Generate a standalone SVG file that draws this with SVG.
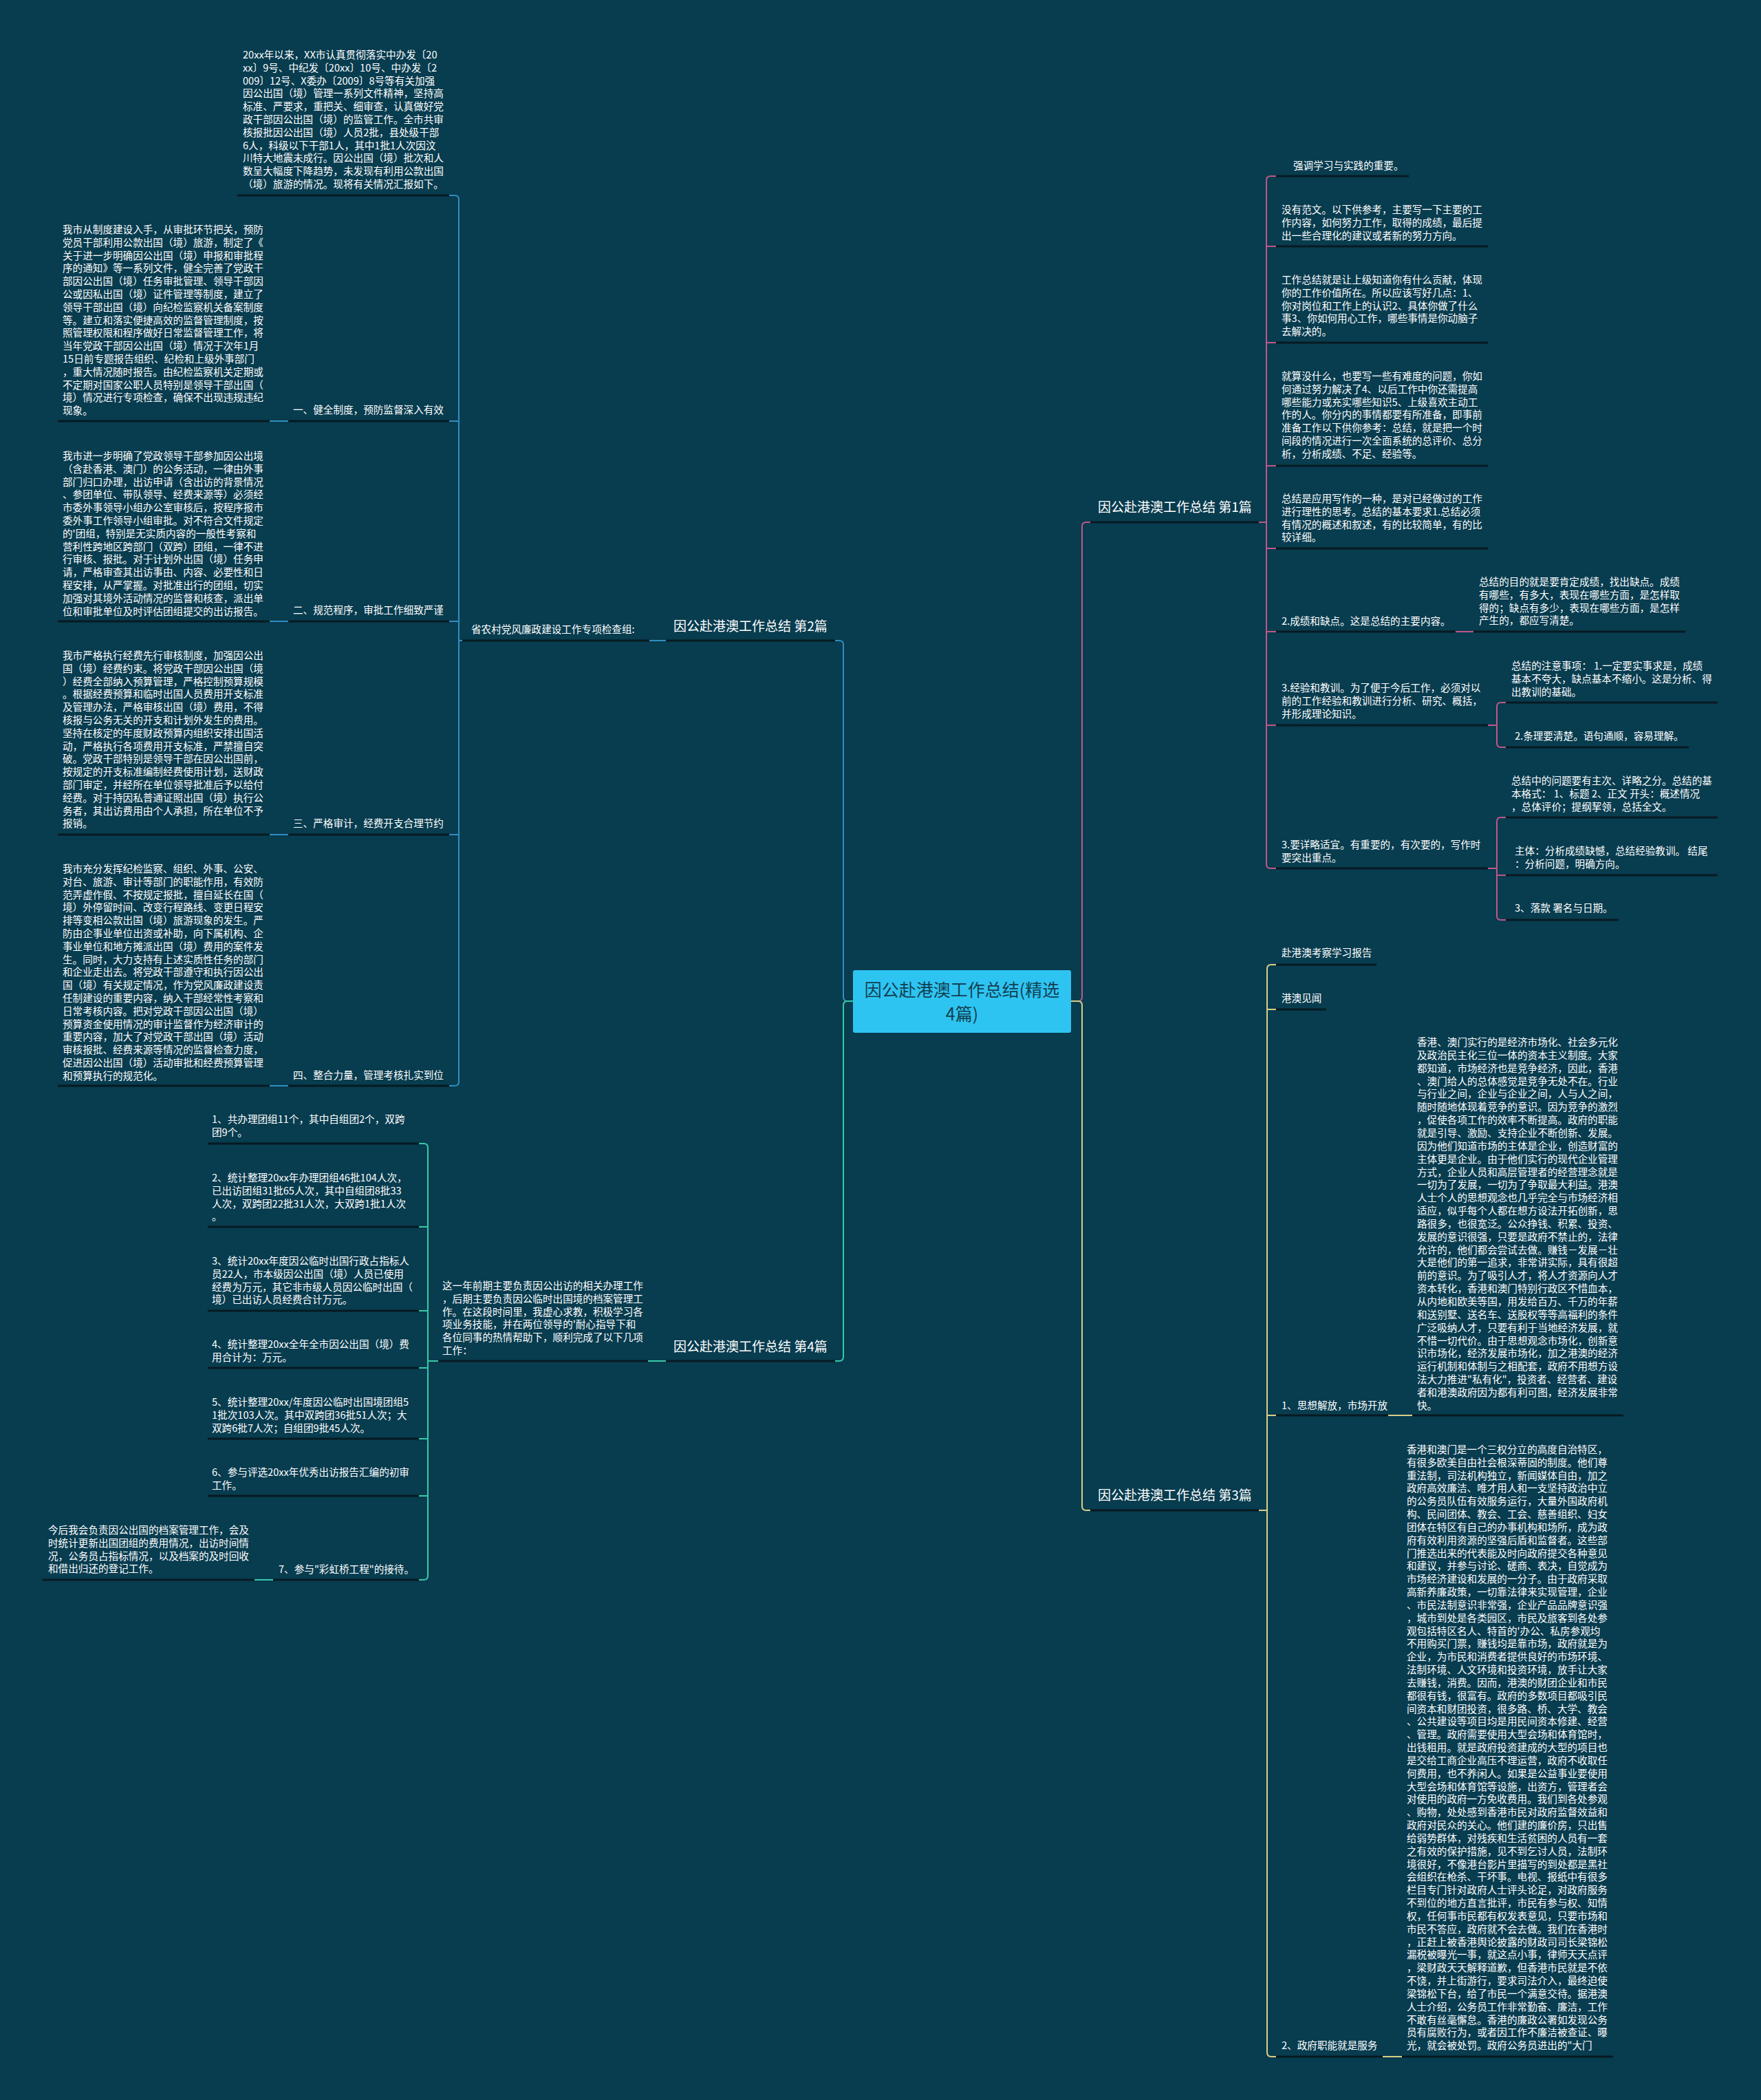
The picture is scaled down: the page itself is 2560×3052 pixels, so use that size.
<svg xmlns="http://www.w3.org/2000/svg" width="2560" height="3052" viewBox="0 0 2560 3052">
<style>
.t{font-family:"Noto Sans CJK SC","Noto Sans",sans-serif;font-size:14.6px;fill:#ffffff}
.b{font-family:"Noto Sans CJK SC","Noto Sans",sans-serif;font-size:19px;fill:#ffffff}
.c{font-family:"Noto Sans CJK SC","Noto Sans",sans-serif;font-size:25px;fill:#123f50}
.u{stroke:#061a22;stroke-width:3;fill:none}
.cp{stroke:#c0568a;stroke-width:2;fill:none}
.cb{stroke:#2f8ec0;stroke-width:2;fill:none}
.ct{stroke:#38c9a8;stroke-width:2;fill:none}
.cy{stroke:#d8cf88;stroke-width:2;fill:none}
</style>
<rect width="2560" height="3052" fill="#083c4f"/>

<g id="connectors">
  <path class="cp" d="M1557,1455 H1567 Q1573,1455 1573,1449 V765 Q1573,759 1579,759 H1585"/>
  <path class="cy" d="M1557,1455 H1567 Q1573,1455 1573,1461 V2189 Q1573,2195 1579,2195 H1585"/>
  <path class="cb" d="M1240,1455 H1232 Q1226,1455 1226,1449 V937 Q1226,931 1220,931 H1214"/>
  <path class="ct" d="M1240,1455 H1232 Q1226,1455 1226,1461 V1972 Q1226,1978 1220,1978 H1214"/>
  <!-- branch 1 -->
  <path class="cp" d="M1830,759 H1841"/>
  <path class="cp" d="M1855,256 H1847 Q1841,256 1841,262 V1256 Q1841,1262 1847,1262 H1855"/>
  <path class="cp" d="M1841,358 H1855 M1841,498 H1855 M1841,677 H1855 M1841,797 H1855 M1841,918 H1855 M1841,1054 H1855"/>
  <path class="cp" d="M2116,918 H2142"/>
  <path class="cp" d="M2163,1054 H2176 M2189,1021 H2182 Q2176,1021 2176,1027 V1080 Q2176,1086 2182,1086 H2189"/>
  <path class="cp" d="M2163,1262 H2176 M2189,1188 H2182 Q2176,1188 2176,1194 V1331 Q2176,1337 2182,1337 H2189 M2176,1272 H2189"/>
  <!-- branch 3 -->
  <path class="cy" d="M1830,2195 H1842"/>
  <path class="cy" d="M1855,1402 H1848 Q1842,1402 1842,1408 V2983 Q1842,2989 1848,2989 H1855"/>
  <path class="cy" d="M1842,1467 H1855 M1842,2057 H1855"/>
  <path class="cy" d="M2018,2057 H2053 M2010,2989 H2038"/>
  <!-- branch 2 -->
  <path class="cb" d="M944,931 H968"/>
  <path class="cb" d="M667,931 H672"/>
  <path class="cb" d="M653,284 H661 Q667,284 667,290 V1572 Q667,1578 661,1578 H653"/>
  <path class="cb" d="M667,612 H653 M667,903 H653 M667,1213 H653"/>
  <path class="cb" d="M392,612 H419 M392,903 H419 M392,1213 H419 M392,1578 H419"/>
  <!-- branch 4 -->
  <path class="ct" d="M942,1978 H968"/>
  <path class="ct" d="M637,1978 H622"/>
  <path class="ct" d="M609,1662 H616 Q622,1662 622,1668 V2290 Q622,2296 616,2296 H609"/>
  <path class="ct" d="M622,1783 H609 M622,1905 H609 M622,1988 H609 M622,2091 H609 M622,2174 H609"/>
  <path class="ct" d="M397,2296 H370"/>
</g>

<g id="center">
  <rect x="1240" y="1410" width="317" height="91" rx="3" fill="#2ec4f2"/>
  <text class="c" x="1398.5" y="1448" text-anchor="middle">因公赴港澳工作总结(精选</text>
  <text class="c" x="1398.5" y="1483" text-anchor="middle">4篇)</text>
</g>

<!-- Branch 1 -->
<g id="b1">
  <text class="b" x="1596" y="744">因公赴港澳工作总结 第1篇</text>
  <line class="u" x1="1585" y1="759" x2="1830" y2="759"/>
</g>
<g id="b1-n1">
  <text class="t" x="1880" y="246">强调学习与实践的重要。</text>
  <line class="u" x1="1855" y1="256" x2="2048" y2="256"/>
</g>
<g id="b1-n2">
  <text class="t" x="1863" y="310"><tspan x="1863">没有范文。以下供参考，主要写一下主要的工</tspan><tspan x="1863" dy="18.8">作内容，如何努力工作，取得的成绩，最后提</tspan><tspan x="1863" dy="18.8">出一些合理化的建议或者新的努力方向。</tspan></text>
  <line class="u" x1="1855" y1="358" x2="2163" y2="358"/>
</g>
<g id="b1-n3">
  <text class="t" x="1863" y="412"><tspan x="1863">工作总结就是让上级知道你有什么贡献，体现</tspan><tspan x="1863" dy="18.8">你的工作价值所在。所以应该写好几点：1、</tspan><tspan x="1863" dy="18.8">你对岗位和工作上的认识2、具体你做了什么</tspan><tspan x="1863" dy="18.8">事3、你如何用心工作，哪些事情是你动脑子</tspan><tspan x="1863" dy="18.8">去解决的。</tspan></text>
  <line class="u" x1="1855" y1="498" x2="2163" y2="498"/>
</g>
<g id="b1-n4">
  <text class="t" x="1863" y="552"><tspan x="1863">就算没什么，也要写一些有难度的问题，你如</tspan><tspan x="1863" dy="18.8">何通过努力解决了4、以后工作中你还需提高</tspan><tspan x="1863" dy="18.8">哪些能力或充实哪些知识5、上级喜欢主动工</tspan><tspan x="1863" dy="18.8">作的人。你分内的事情都要有所准备，即事前</tspan><tspan x="1863" dy="18.8">准备工作以下供你参考：总结，就是把一个时</tspan><tspan x="1863" dy="18.8">间段的情况进行一次全面系统的总评价、总分</tspan><tspan x="1863" dy="18.8">析，分析成绩、不足、经验等。</tspan></text>
  <line class="u" x1="1855" y1="677" x2="2163" y2="677"/>
</g>
<g id="b1-n5">
  <text class="t" x="1863" y="730"><tspan x="1863">总结是应用写作的一种，是对已经做过的工作</tspan><tspan x="1863" dy="18.8">进行理性的思考。总结的基本要求1.总结必须</tspan><tspan x="1863" dy="18.8">有情况的概述和叙述，有的比较简单，有的比</tspan><tspan x="1863" dy="18.8">较详细。</tspan></text>
  <line class="u" x1="1855" y1="797" x2="2163" y2="797"/>
</g>
<g id="b1-n6">
  <text class="t" x="1863" y="908">2.成绩和缺点。这是总结的主要内容。</text>
  <line class="u" x1="1855" y1="918" x2="2116" y2="918"/>
</g>
<g id="b1-n6a">
  <text class="t" x="2150" y="851"><tspan x="2150">总结的目的就是要肯定成绩，找出缺点。成绩</tspan><tspan x="2150" dy="18.8">有哪些，有多大，表现在哪些方面，是怎样取</tspan><tspan x="2150" dy="18.8">得的；缺点有多少，表现在哪些方面，是怎样</tspan><tspan x="2150" dy="18.8">产生的，都应写清楚。</tspan></text>
  <line class="u" x1="2142" y1="918" x2="2450" y2="918"/>
</g>
<g id="b1-n7">
  <text class="t" x="1863" y="1005"><tspan x="1863">3.经验和教训。为了便于今后工作，必须对以</tspan><tspan x="1863" dy="18.8">前的工作经验和教训进行分析、研究、概括，</tspan><tspan x="1863" dy="18.8">并形成理论知识。</tspan></text>
  <line class="u" x1="1855" y1="1054" x2="2163" y2="1054"/>
</g>
<g id="b1-n7a">
  <text class="t" x="2197" y="973"><tspan x="2197">总结的注意事项： 1.一定要实事求是，成绩</tspan><tspan x="2197" dy="18.8">基本不夸大，缺点基本不缩小。这是分析、得</tspan><tspan x="2197" dy="18.8">出教训的基础。</tspan></text>
  <line class="u" x1="2189" y1="1021" x2="2497" y2="1021"/>
</g>
<g id="b1-n7b">
  <text class="t" x="2202" y="1075">2.条理要清楚。语句通顺，容易理解。</text>
  <line class="u" x1="2189" y1="1086" x2="2455" y2="1086"/>
</g>
<g id="b1-n8">
  <text class="t" x="1863" y="1233"><tspan x="1863">3.要详略适宜。有重要的，有次要的，写作时</tspan><tspan x="1863" dy="18.8">要突出重点。</tspan></text>
  <line class="u" x1="1855" y1="1262" x2="2163" y2="1262"/>
</g>
<g id="b1-n8a">
  <text class="t" x="2197" y="1140"><tspan x="2197">总结中的问题要有主次、详略之分。总结的基</tspan><tspan x="2197" dy="18.8">本格式： 1、标题 2、正文 开头：概述情况</tspan><tspan x="2197" dy="18.8">，总体评价；提纲挈领，总括全文。</tspan></text>
  <line class="u" x1="2189" y1="1188" x2="2497" y2="1188"/>
</g>
<g id="b1-n8b">
  <text class="t" x="2202" y="1242"><tspan x="2202">主体：分析成绩缺憾，总结经验教训。 结尾</tspan><tspan x="2202" dy="18.8">：分析问题，明确方向。</tspan></text>
  <line class="u" x1="2189" y1="1272" x2="2497" y2="1272"/>
</g>
<g id="b1-n8c">
  <text class="t" x="2202" y="1325">3、落款 署名与日期。</text>
  <line class="u" x1="2189" y1="1337" x2="2353" y2="1337"/>
</g>

<!-- Branch 3 -->
<g id="b3">
  <text class="b" x="1596" y="2180">因公赴港澳工作总结 第3篇</text>
  <line class="u" x1="1585" y1="2195" x2="1830" y2="2195"/>
</g>
<g id="b3-n1">
  <text class="t" x="1863" y="1390">赴港澳考察学习报告</text>
  <line class="u" x1="1855" y1="1402" x2="2001" y2="1402"/>
</g>
<g id="b3-n2">
  <text class="t" x="1863" y="1456">港澳见闻</text>
  <line class="u" x1="1855" y1="1467" x2="1928" y2="1467"/>
</g>
<g id="b3-n3">
  <text class="t" x="1863" y="2048">1、思想解放，市场开放</text>
  <line class="u" x1="1855" y1="2057" x2="2018" y2="2057"/>
</g>
<g id="b3-n3a">
  <text class="t" x="2060" y="1520"><tspan x="2060">香港、澳门实行的是经济市场化、社会多元化</tspan><tspan x="2060" dy="18.85">及政治民主化三位一体的资本主义制度。大家</tspan><tspan x="2060" dy="18.85">都知道，市场经济也是竞争经济，因此，香港</tspan><tspan x="2060" dy="18.85">、澳门给人的总体感觉是竞争无处不在。行业</tspan><tspan x="2060" dy="18.85">与行业之间，企业与企业之间，人与人之间，</tspan><tspan x="2060" dy="18.85">随时随地体现着竞争的意识。因为竞争的激烈</tspan><tspan x="2060" dy="18.85">，促使各项工作的效率不断提高。政府的职能</tspan><tspan x="2060" dy="18.85">就是引导、激励、支持企业不断创新、发展。</tspan><tspan x="2060" dy="18.85">因为他们知道市场的主体是企业，创造财富的</tspan><tspan x="2060" dy="18.85">主体更是企业。由于他们实行的现代企业管理</tspan><tspan x="2060" dy="18.85">方式，企业人员和高层管理者的经营理念就是</tspan><tspan x="2060" dy="18.85">一切为了发展，一切为了争取最大利益。港澳</tspan><tspan x="2060" dy="18.85">人士个人的思想观念也几乎完全与市场经济相</tspan><tspan x="2060" dy="18.85">适应，似乎每个人都在想方设法开拓创新，思</tspan><tspan x="2060" dy="18.85">路很多，也很宽泛。公众挣钱、积累、投资、</tspan><tspan x="2060" dy="18.85">发展的意识很强，只要是政府不禁止的，法律</tspan><tspan x="2060" dy="18.85">允许的，他们都会尝试去做。赚钱－发展－壮</tspan><tspan x="2060" dy="18.85">大是他们的第一追求，非常讲实际，具有很超</tspan><tspan x="2060" dy="18.85">前的意识。为了吸引人才，将人才资源向人才</tspan><tspan x="2060" dy="18.85">资本转化，香港和澳门特别行政区不惜血本，</tspan><tspan x="2060" dy="18.85">从内地和欧美等国，用发给百万、千万的年薪</tspan><tspan x="2060" dy="18.85">和送别墅、送名车、送股权等等高福利的条件</tspan><tspan x="2060" dy="18.85">广泛吸纳人才，只要有利于当地经济发展，就</tspan><tspan x="2060" dy="18.85">不惜一切代价。由于思想观念市场化，创新意</tspan><tspan x="2060" dy="18.85">识市场化，经济发展市场化，加之港澳的经济</tspan><tspan x="2060" dy="18.85">运行机制和体制与之相配套，政府不用想方设</tspan><tspan x="2060" dy="18.85">法大力推进"私有化"，投资者、经营者、建设</tspan><tspan x="2060" dy="18.85">者和港澳政府因为都有利可图，经济发展非常</tspan><tspan x="2060" dy="18.85">快。</tspan></text>
  <line class="u" x1="2053" y1="2057" x2="2360" y2="2057"/>
</g>
<g id="b3-n4">
  <text class="t" x="1863" y="2978">2、政府职能就是服务</text>
  <line class="u" x1="1855" y1="2989" x2="2010" y2="2989"/>
</g>
<g id="b3-n4a">
  <text class="t" x="2045" y="2112"><tspan x="2045">香港和澳门是一个三权分立的高度自治特区，</tspan><tspan x="2045" dy="18.83">有很多欧美自由社会根深蒂固的制度。他们尊</tspan><tspan x="2045" dy="18.83">重法制，司法机构独立，新闻媒体自由，加之</tspan><tspan x="2045" dy="18.83">政府高效廉洁、唯才用人和一支坚持政治中立</tspan><tspan x="2045" dy="18.83">的公务员队伍有效服务运行，大量外国政府机</tspan><tspan x="2045" dy="18.83">构、民间团体、教会、工会、慈善组织、妇女</tspan><tspan x="2045" dy="18.83">团体在特区有自己的办事机构和场所，成为政</tspan><tspan x="2045" dy="18.83">府有效利用资源的坚强后盾和监督者。这些部</tspan><tspan x="2045" dy="18.83">门推选出来的代表能及时向政府提交各种意见</tspan><tspan x="2045" dy="18.83">和建议，并参与讨论、磋商、表决，自觉成为</tspan><tspan x="2045" dy="18.83">市场经济建设和发展的一分子。由于政府采取</tspan><tspan x="2045" dy="18.83">高新养廉政策，一切靠法律来实现管理，企业</tspan><tspan x="2045" dy="18.83">、市民法制意识非常强，企业产品品牌意识强</tspan><tspan x="2045" dy="18.83">，城市到处是各类园区，市民及旅客到各处参</tspan><tspan x="2045" dy="18.83">观包括特区名人、特首的'办公、私房参观均</tspan><tspan x="2045" dy="18.83">不用购买门票，赚钱均是靠市场，政府就是为</tspan><tspan x="2045" dy="18.83">企业，为市民和消费者提供良好的市场环境、</tspan><tspan x="2045" dy="18.83">法制环境、人文环境和投资环境，放手让大家</tspan><tspan x="2045" dy="18.83">去赚钱，消费。因而，港澳的财团企业和市民</tspan><tspan x="2045" dy="18.83">都很有钱，很富有。政府的多数项目都吸引民</tspan><tspan x="2045" dy="18.83">间资本和财团投资，很多路、桥、大学、教会</tspan><tspan x="2045" dy="18.83">、公共建设等项目均是用民间资本修建、经营</tspan><tspan x="2045" dy="18.83">、管理。政府需要使用大型会场和体育馆时，</tspan><tspan x="2045" dy="18.83">出钱租用。就是政府投资建成的大型的项目也</tspan><tspan x="2045" dy="18.83">是交给工商企业高压不理运营，政府不收取任</tspan><tspan x="2045" dy="18.83">何费用，也不养闲人。如果是公益事业要使用</tspan><tspan x="2045" dy="18.83">大型会场和体育馆等设施，出资方，管理者会</tspan><tspan x="2045" dy="18.83">对使用的政府一方免收费用。我们到各处参观</tspan><tspan x="2045" dy="18.83">、购物，处处感到香港市民对政府监督效益和</tspan><tspan x="2045" dy="18.83">政府对民众的关心。他们建的廉价房，只出售</tspan><tspan x="2045" dy="18.83">给弱势群体，对残疾和生活贫困的人员有一套</tspan><tspan x="2045" dy="18.83">之有效的保护措施，见不到乞讨人员，法制环</tspan><tspan x="2045" dy="18.83">境很好，不像港台影片里描写的到处都是黑社</tspan><tspan x="2045" dy="18.83">会组织在枪杀、干坏事。电视、报纸中有很多</tspan><tspan x="2045" dy="18.83">栏目专门针对政府人士评头论足，对政府服务</tspan><tspan x="2045" dy="18.83">不到位的地方直言批评，市民有参与权、知情</tspan><tspan x="2045" dy="18.83">权，任何事市民都有权发表意见，只要市场和</tspan><tspan x="2045" dy="18.83">市民不答应，政府就不会去做。我们在香港时</tspan><tspan x="2045" dy="18.83">，正赶上被香港舆论披露的财政司司长梁锦松</tspan><tspan x="2045" dy="18.83">漏税被曝光一事，就这点小事，律师天天点评</tspan><tspan x="2045" dy="18.83">，梁财政天天解释道歉，但香港市民就是不依</tspan><tspan x="2045" dy="18.83">不饶，并上街游行，要求司法介入，最终迫使</tspan><tspan x="2045" dy="18.83">梁锦松下台，给了市民一个满意交待。据港澳</tspan><tspan x="2045" dy="18.83">人士介绍，公务员工作非常勤奋、廉洁，工作</tspan><tspan x="2045" dy="18.83">不敢有丝毫懈怠。香港的廉政公署如发现公务</tspan><tspan x="2045" dy="18.83">员有腐败行为，或者因工作不廉洁被查证、曝</tspan><tspan x="2045" dy="18.83">光，就会被处罚。政府公务员进出的"大门</tspan></text>
  <line class="u" x1="2038" y1="2989" x2="2345" y2="2989"/>
</g>

<!-- Branch 2 -->
<g id="b2">
  <text class="b" x="979" y="917">因公赴港澳工作总结 第2篇</text>
  <line class="u" x1="968" y1="931" x2="1214" y2="931"/>
</g>
<g id="b2-n0">
  <text class="t" x="685" y="920">省农村党风廉政建设工作专项检查组:</text>
  <line class="u" x1="672" y1="931" x2="944" y2="931"/>
</g>
<g id="b2-n1">
  <text class="t" x="353" y="85"><tspan x="353">20xx年以来，XX市认真贯彻落实中办发〔20</tspan><tspan x="353" dy="18.8">xx〕9号、中纪发〔20xx〕10号、中办发〔2</tspan><tspan x="353" dy="18.8">009〕12号、X委办〔2009〕8号等有关加强</tspan><tspan x="353" dy="18.8">因公出国（境）管理一系列文件精神，坚持高</tspan><tspan x="353" dy="18.8">标准、严要求，重把关、细审查，认真做好党</tspan><tspan x="353" dy="18.8">政干部因公出国（境）的监管工作。全市共审</tspan><tspan x="353" dy="18.8">核报批因公出国（境）人员2批，县处级干部</tspan><tspan x="353" dy="18.8">6人，科级以下干部1人，其中1批1人次因汶</tspan><tspan x="353" dy="18.8">川特大地震未成行。因公出国（境）批次和人</tspan><tspan x="353" dy="18.8">数呈大幅度下降趋势，未发现有利用公款出国</tspan><tspan x="353" dy="18.8">（境）旅游的情况。现将有关情况汇报如下。</tspan></text>
  <line class="u" x1="345" y1="284" x2="653" y2="284"/>
</g>
<g id="b2-n2">
  <text class="t" x="426" y="601">一、健全制度，预防监督深入有效</text>
  <line class="u" x1="419" y1="612" x2="653" y2="612"/>
</g>
<g id="b2-n2a">
  <text class="t" x="91" y="339"><tspan x="91">我市从制度建设入手，从审批环节把关，预防</tspan><tspan x="91" dy="18.8">党员干部利用公款出国（境）旅游，制定了《</tspan><tspan x="91" dy="18.8">关于进一步明确因公出国（境）申报和审批程</tspan><tspan x="91" dy="18.8">序的通知》等一系列文件，健全完善了党政干</tspan><tspan x="91" dy="18.8">部因公出国（境）任务审批管理、领导干部因</tspan><tspan x="91" dy="18.8">公或因私出国（境）证件管理等制度，建立了</tspan><tspan x="91" dy="18.8">领导干部出国（境）向纪检监察机关备案制度</tspan><tspan x="91" dy="18.8">等。建立和落实便捷高效的监督管理制度，按</tspan><tspan x="91" dy="18.8">照管理权限和程序做好日常监督管理工作，将</tspan><tspan x="91" dy="18.8">当年党政干部因公出国（境）情况于次年1月</tspan><tspan x="91" dy="18.8">15日前专题报告组织、纪检和上级外事部门</tspan><tspan x="91" dy="18.8">，重大情况随时报告。由纪检监察机关定期或</tspan><tspan x="91" dy="18.8">不定期对国家公职人员特别是领导干部出国（</tspan><tspan x="91" dy="18.8">境）情况进行专项检查，确保不出现违规违纪</tspan><tspan x="91" dy="18.8">现象。</tspan></text>
  <line class="u" x1="84" y1="612" x2="392" y2="612"/>
</g>
<g id="b2-n3">
  <text class="t" x="426" y="892">二、规范程序，审批工作细致严谨</text>
  <line class="u" x1="419" y1="903" x2="653" y2="903"/>
</g>
<g id="b2-n3a">
  <text class="t" x="91" y="668"><tspan x="91">我市进一步明确了党政领导干部参加因公出境</tspan><tspan x="91" dy="18.8">（含赴香港、澳门）的公务活动，一律由外事</tspan><tspan x="91" dy="18.8">部门归口办理，出访申请（含出访的背景情况</tspan><tspan x="91" dy="18.8">、参团单位、带队领导、经费来源等）必须经</tspan><tspan x="91" dy="18.8">市委外事领导小组办公室审核后，按程序报市</tspan><tspan x="91" dy="18.8">委外事工作领导小组审批。对不符合文件规定</tspan><tspan x="91" dy="18.8">的'团组，特别是无实质内容的一般性考察和</tspan><tspan x="91" dy="18.8">营利性跨地区跨部门（双跨）团组，一律不进</tspan><tspan x="91" dy="18.8">行审核、报批。对于计划外出国（境）任务申</tspan><tspan x="91" dy="18.8">请，严格审查其出访事由、内容、必要性和日</tspan><tspan x="91" dy="18.8">程安排，从严掌握。对批准出行的团组，切实</tspan><tspan x="91" dy="18.8">加强对其境外活动情况的监督和核查，派出单</tspan><tspan x="91" dy="18.8">位和审批单位及时评估团组提交的出访报告。</tspan></text>
  <line class="u" x1="84" y1="903" x2="392" y2="903"/>
</g>
<g id="b2-n4">
  <text class="t" x="426" y="1202">三、严格审计，经费开支合理节约</text>
  <line class="u" x1="419" y1="1213" x2="653" y2="1213"/>
</g>
<g id="b2-n4a">
  <text class="t" x="91" y="958"><tspan x="91">我市严格执行经费先行审核制度，加强因公出</tspan><tspan x="91" dy="18.8">国（境）经费约束。将党政干部因公出国（境</tspan><tspan x="91" dy="18.8">）经费全部纳入预算管理，严格控制预算规模</tspan><tspan x="91" dy="18.8">。根据经费预算和临时出国人员费用开支标准</tspan><tspan x="91" dy="18.8">及管理办法，严格审核出国（境）费用，不得</tspan><tspan x="91" dy="18.8">核报与公务无关的开支和计划外发生的费用。</tspan><tspan x="91" dy="18.8">坚持在核定的年度财政预算内组织安排出国活</tspan><tspan x="91" dy="18.8">动，严格执行各项费用开支标准，严禁擅自突</tspan><tspan x="91" dy="18.8">破。党政干部特别是领导干部在因公出国前，</tspan><tspan x="91" dy="18.8">按规定的开支标准编制经费使用计划，送财政</tspan><tspan x="91" dy="18.8">部门审定，并经所在单位领导批准后予以给付</tspan><tspan x="91" dy="18.8">经费。对于持因私普通证照出国（境）执行公</tspan><tspan x="91" dy="18.8">务者，其出访费用由个人承担，所在单位不予</tspan><tspan x="91" dy="18.8">报销。</tspan></text>
  <line class="u" x1="84" y1="1213" x2="392" y2="1213"/>
</g>
<g id="b2-n5">
  <text class="t" x="426" y="1568">四、整合力量，管理考核扎实到位</text>
  <line class="u" x1="419" y1="1578" x2="653" y2="1578"/>
</g>
<g id="b2-n5a">
  <text class="t" x="91" y="1268"><tspan x="91">我市充分发挥纪检监察、组织、外事、公安、</tspan><tspan x="91" dy="18.8">对台、旅游、审计等部门的职能作用，有效防</tspan><tspan x="91" dy="18.8">范弄虚作假、不按规定报批，擅自延长在国（</tspan><tspan x="91" dy="18.8">境）外停留时间、改变行程路线、变更日程安</tspan><tspan x="91" dy="18.8">排等变相公款出国（境）旅游现象的发生。严</tspan><tspan x="91" dy="18.8">防由企事业单位出资或补助，向下属机构、企</tspan><tspan x="91" dy="18.8">事业单位和地方摊派出国（境）费用的案件发</tspan><tspan x="91" dy="18.8">生。同时，大力支持有上述实质性任务的部门</tspan><tspan x="91" dy="18.8">和企业走出去。将党政干部遵守和执行因公出</tspan><tspan x="91" dy="18.8">国（境）有关规定情况，作为党风廉政建设责</tspan><tspan x="91" dy="18.8">任制建设的重要内容，纳入干部经常性考察和</tspan><tspan x="91" dy="18.8">日常考核内容。把对党政干部因公出国（境）</tspan><tspan x="91" dy="18.8">预算资金使用情况的审计监督作为经济审计的</tspan><tspan x="91" dy="18.8">重要内容，加大了对党政干部出国（境）活动</tspan><tspan x="91" dy="18.8">审核报批、经费来源等情况的监督检查力度，</tspan><tspan x="91" dy="18.8">促进因公出国（境）活动审批和经费预算管理</tspan><tspan x="91" dy="18.8">和预算执行的规范化。</tspan></text>
  <line class="u" x1="84" y1="1578" x2="392" y2="1578"/>
</g>

<!-- Branch 4 -->
<g id="b4">
  <text class="b" x="979" y="1964">因公赴港澳工作总结 第4篇</text>
  <line class="u" x1="968" y1="1978" x2="1214" y2="1978"/>
</g>
<g id="b4-n0">
  <text class="t" x="643" y="1874"><tspan x="643">这一年前期主要负责因公出访的相关办理工作</tspan><tspan x="643" dy="18.8">，后期主要负责因公临时出国境的档案管理工</tspan><tspan x="643" dy="18.8">作。在这段时间里，我虚心求教，积极学习各</tspan><tspan x="643" dy="18.8">项业务技能，并在两位领导的'耐心指导下和</tspan><tspan x="643" dy="18.8">各位同事的热情帮助下，顺利完成了以下几项</tspan><tspan x="643" dy="18.8">工作：</tspan></text>
  <line class="u" x1="637" y1="1978" x2="942" y2="1978"/>
</g>
<g id="b4-n1">
  <text class="t" x="308" y="1632"><tspan x="308">1、共办理团组11个，其中自组团2个，双跨</tspan><tspan x="308" dy="18.8">团9个。</tspan></text>
  <line class="u" x1="302" y1="1662" x2="609" y2="1662"/>
</g>
<g id="b4-n2">
  <text class="t" x="308" y="1717"><tspan x="308">2、统计整理20xx年办理团组46批104人次，</tspan><tspan x="308" dy="18.8">已出访团组31批65人次，其中自组团8批33</tspan><tspan x="308" dy="18.8">人次，双跨团22批31人次，大双跨1批1人次</tspan><tspan x="308" dy="18.8">。</tspan></text>
  <line class="u" x1="302" y1="1783" x2="609" y2="1783"/>
</g>
<g id="b4-n3">
  <text class="t" x="308" y="1838"><tspan x="308">3、统计20xx年度因公临时出国行政占指标人</tspan><tspan x="308" dy="18.8">员22人，市本级因公出国（境）人员已使用</tspan><tspan x="308" dy="18.8">经费为万元，其它非市级人员因公临时出国（</tspan><tspan x="308" dy="18.8">境）已出访人员经费合计万元。</tspan></text>
  <line class="u" x1="302" y1="1905" x2="609" y2="1905"/>
</g>
<g id="b4-n4">
  <text class="t" x="308" y="1959"><tspan x="308">4、统计整理20xx全年全市因公出国（境）费</tspan><tspan x="308" dy="18.8">用合计为：万元。</tspan></text>
  <line class="u" x1="302" y1="1988" x2="609" y2="1988"/>
</g>
<g id="b4-n5">
  <text class="t" x="308" y="2043"><tspan x="308">5、统计整理20xx/年度因公临时出国境团组5</tspan><tspan x="308" dy="18.8">1批次103人次。其中双跨团36批51人次；大</tspan><tspan x="308" dy="18.8">双跨6批7人次；自组团9批45人次。</tspan></text>
  <line class="u" x1="302" y1="2091" x2="609" y2="2091"/>
</g>
<g id="b4-n6">
  <text class="t" x="308" y="2145"><tspan x="308">6、参与评选20xx年优秀出访报告汇编的初审</tspan><tspan x="308" dy="18.8">工作。</tspan></text>
  <line class="u" x1="302" y1="2174" x2="609" y2="2174"/>
</g>
<g id="b4-n7">
  <text class="t" x="405" y="2286">7、参与"彩虹桥工程"的接待。</text>
  <line class="u" x1="397" y1="2296" x2="609" y2="2296"/>
</g>
<g id="b4-n7a">
  <text class="t" x="70" y="2229"><tspan x="70">今后我会负责因公出国的档案管理工作，会及</tspan><tspan x="70" dy="18.8">时统计更新出国团组的费用情况，出访时间情</tspan><tspan x="70" dy="18.8">况，公务员占指标情况，以及档案的及时回收</tspan><tspan x="70" dy="18.8">和借出归还的登记工作。</tspan></text>
  <line class="u" x1="62" y1="2296" x2="370" y2="2296"/>
</g>
</svg>
